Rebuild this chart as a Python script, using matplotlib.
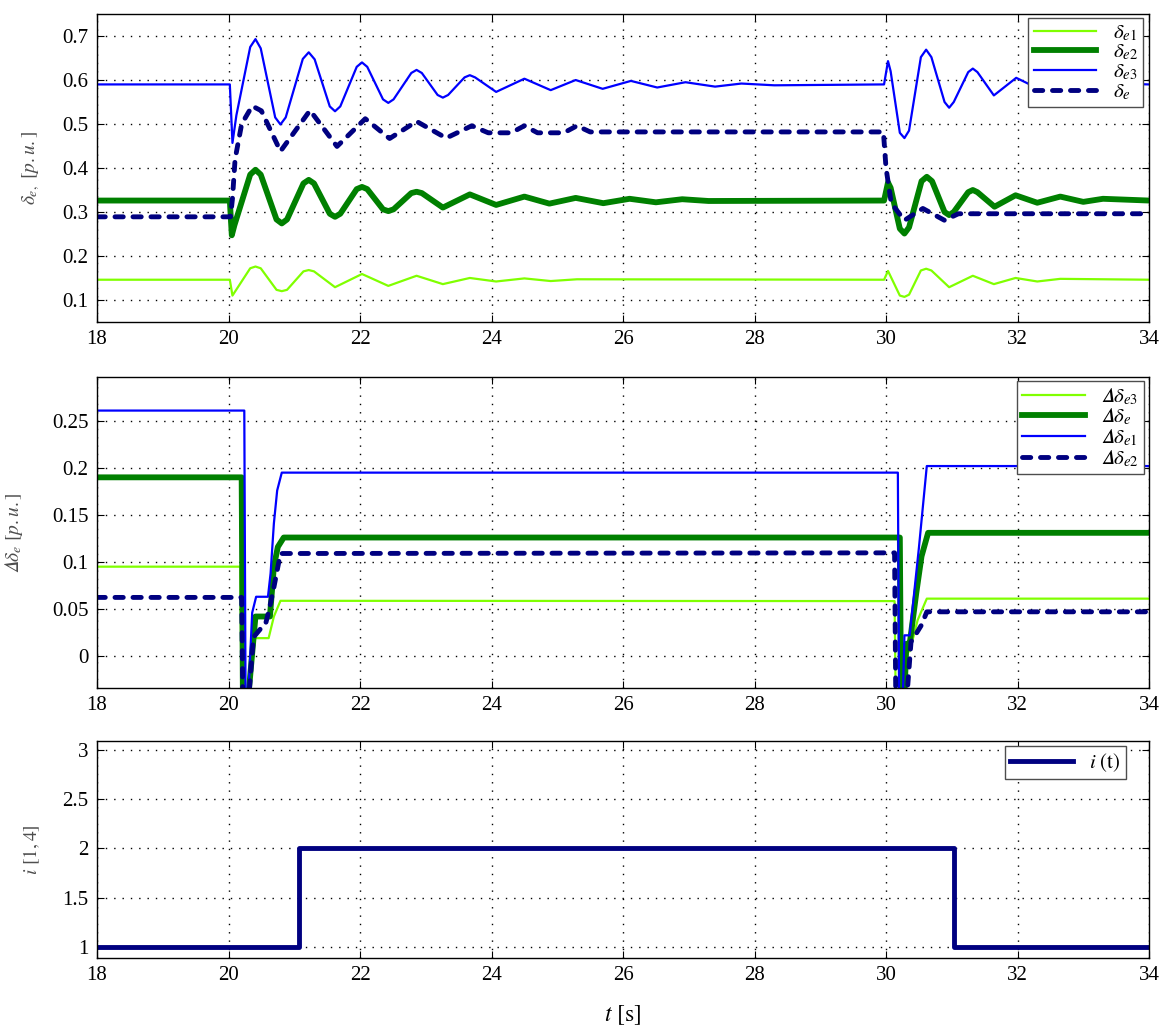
import matplotlib
matplotlib.use('Agg')
import matplotlib.pyplot as plt

plt.rcParams['font.family'] = 'Liberation Serif'
plt.rcParams['mathtext.fontset'] = 'stix'

# --- top panel: delta_e per unit (peaks/troughs)
t_e1 = [18, 20.02, 20.06, 20.33, 20.41, 20.49, 20.73, 20.81, 20.89, 21.14, 21.22, 21.3,
        21.62, 22.03, 22.43, 22.86, 23.26, 23.67, 24.07, 24.5, 24.9, 25.3, 29.97, 30.03,
        30.21, 30.28, 30.35, 30.53, 30.61, 30.69, 30.96, 31.32, 31.64, 31.97, 32.3, 32.65, 34]
de1 = [0.146, 0.146, 0.110, 0.172, 0.176, 0.172, 0.123, 0.120, 0.123, 0.165, 0.168, 0.165,
       0.129, 0.159, 0.132, 0.155, 0.136, 0.150, 0.142, 0.149, 0.143, 0.147, 0.146, 0.166,
       0.110, 0.107, 0.112, 0.167, 0.171, 0.167, 0.129, 0.155, 0.136, 0.150, 0.142, 0.148, 0.146]

t_e2 = [18, 20.02, 20.05, 20.09, 20.33, 20.41, 20.49, 20.73, 20.81, 20.89, 21.14, 21.22,
        21.3, 21.54, 21.62, 21.7, 21.95, 22.03, 22.11, 22.35, 22.43, 22.51, 22.78, 22.86,
        22.94, 23.26, 23.67, 24.07, 24.5, 24.88, 25.28, 25.7, 26.1, 26.5, 26.9, 27.3, 29.97,
        30.03, 30.07, 30.21, 30.28, 30.35, 30.54, 30.62, 30.7, 30.89, 30.96, 31.03, 31.25,
        31.32, 31.39, 31.65, 31.97, 32.3, 32.65, 33.0, 33.3, 34]
de2 = [0.326, 0.326, 0.247, 0.270, 0.385, 0.396, 0.385, 0.283, 0.274, 0.283, 0.365, 0.373,
       0.365, 0.296, 0.289, 0.296, 0.352, 0.357, 0.352, 0.306, 0.302, 0.306, 0.343, 0.346,
       0.343, 0.310, 0.340, 0.316, 0.335, 0.319, 0.332, 0.320, 0.330, 0.322, 0.329, 0.325, 0.326,
       0.367, 0.355, 0.262, 0.251, 0.265, 0.370, 0.380, 0.370, 0.300, 0.293, 0.300, 0.345,
       0.350, 0.345, 0.312, 0.338, 0.321, 0.335, 0.323, 0.330, 0.326]

t_e3 = [18, 20.02, 20.06, 20.12, 20.33, 20.41, 20.49, 20.71, 20.79, 20.87, 21.13, 21.22,
        21.31, 21.54, 21.62, 21.7, 21.95, 22.03, 22.11, 22.35, 22.43, 22.51, 22.78, 22.86,
        22.94, 23.18, 23.26, 23.34, 23.59, 23.67, 23.75, 24.07, 24.5, 24.9, 25.28, 25.69,
        26.12, 26.52, 26.95, 27.4, 27.8, 28.3, 29.97, 30.03, 30.07, 30.21, 30.28, 30.35,
        30.53, 30.61, 30.69, 30.89, 30.96, 31.03, 31.25, 31.32, 31.39, 31.64, 31.98, 32.35,
        32.7, 33.1, 33.5, 34]
de3 = [0.59, 0.59, 0.457, 0.520, 0.675, 0.693, 0.672, 0.515, 0.499, 0.515, 0.648, 0.663,
       0.647, 0.540, 0.529, 0.540, 0.630, 0.640, 0.630, 0.556, 0.548, 0.556, 0.616, 0.623,
       0.616, 0.566, 0.560, 0.566, 0.606, 0.611, 0.606, 0.573, 0.603, 0.577, 0.600, 0.580,
       0.598, 0.583, 0.595, 0.585, 0.592, 0.588, 0.59, 0.643, 0.620, 0.480, 0.468, 0.485,
       0.652, 0.669, 0.652, 0.550, 0.537, 0.550, 0.618, 0.626, 0.618, 0.565, 0.605, 0.578,
       0.598, 0.585, 0.592, 0.59]

t_e = [18, 20.03, 20.06, 20.1, 20.2, 20.36, 20.5, 20.79, 21.24, 21.65, 22.08, 22.45, 22.86,
       23.31, 23.7, 23.95, 24.3, 24.5, 24.7, 25.1, 25.3, 25.5, 26.0, 29.96, 30.0, 30.08,
       30.28, 30.56, 30.89, 31.1, 34]
de = [0.289, 0.289, 0.33, 0.42, 0.50, 0.541, 0.53, 0.438, 0.531, 0.449, 0.512, 0.467, 0.506,
      0.468, 0.496, 0.480, 0.480, 0.496, 0.480, 0.480, 0.496, 0.482, 0.482, 0.482, 0.40, 0.32,
      0.281, 0.308, 0.281, 0.296, 0.296]

# --- middle panel: Delta delta_e
t_d3 = [18, 20.18, 20.2, 20.3, 20.37, 20.61, 20.69, 20.79, 30.13, 30.15, 30.23, 30.28,
        30.36, 30.48, 30.62, 34]
dd3 = [0.095, 0.095, -0.06, -0.06, 0.019, 0.019, 0.042, 0.0587, 0.0584, -0.06, -0.06, 0.005,
       0.005, 0.038, 0.061, 0.061]

t_d = [18, 20.2, 20.22, 20.28, 20.41, 20.63, 20.69, 20.75, 20.84, 30.21, 30.23, 30.27,
       30.31, 30.36, 30.46, 30.54, 30.64, 34]
dd = [0.19, 0.19, -0.06, -0.06, 0.042, 0.042, 0.095, 0.116, 0.126, 0.126, -0.06, -0.06,
      0.013, 0.013, 0.067, 0.106, 0.131, 0.131]

t_d1 = [18, 20.24, 20.26, 20.29, 20.36, 20.42, 20.6, 20.64, 20.69, 20.74, 20.81, 30.18,
        30.2, 30.25, 30.28, 30.36, 30.5, 30.62, 34]
dd1 = [0.261, 0.261, -0.06, -0.06, 0.046, 0.063, 0.063, 0.088, 0.141, 0.176, 0.195, 0.195,
       -0.06, -0.06, 0.022, 0.022, 0.115, 0.202, 0.202]

t_d2 = [18, 20.2, 20.22, 20.29, 20.38, 20.5, 20.56, 20.62, 20.69, 20.79, 30.13, 30.15, 30.3,
        30.38, 30.54, 30.62, 34]
dd2 = [0.0623, 0.0623, -0.06, -0.06, 0.02, 0.03, 0.033, 0.05, 0.073, 0.109, 0.1097, -0.06,
       -0.06, 0.015, 0.033, 0.047, 0.047]

# --- bottom panel: switching index
t_i = [18, 21.07, 31.03, 34]
i_t = [1, 2, 1, 1]

light = '#80FF00'
dgreen = '#008000'
blue = '#0000FF'
navy = '#000080'
DELTA = '\U0001D6E5'  # italic capital delta


def style(ax, yticks, ylabels, ylim):
    ax.set_xlim(18, 34)
    ax.set_xticks(range(18, 35, 2))
    ax.set_ylim(*ylim)
    ax.set_yticks(yticks)
    ax.set_yticklabels(ylabels)
    ax.grid(True, color='k', lw=1.0, linestyle=(0, (1, 5)))
    ax.tick_params(direction='in', length=5, width=0.8, top=True, right=True,
                   labelsize=15, pad=6)
    for s in ax.spines.values():
        s.set_linewidth(1.0)


def legend(ax, anchor):
    leg = ax.legend(loc='upper right', bbox_to_anchor=anchor, fontsize=15,
                    labelspacing=0.0, handlelength=3.0, handletextpad=0.8,
                    borderpad=0.25, borderaxespad=0, fancybox=False,
                    framealpha=1, edgecolor='0.3')
    leg.get_frame().set_linewidth(1.0)


fig = plt.figure(figsize=(11.59, 10.25), dpi=100)
ax1 = fig.add_axes([0.0837, 0.6859, 0.9077, 0.3004])
ax2 = fig.add_axes([0.0837, 0.3288, 0.9077, 0.3034])
ax3 = fig.add_axes([0.0837, 0.0654, 0.9077, 0.2117])

# top
ax1.plot(t_e1, de1, color=light, lw=1.6, label=r'$\delta_{e1}$')
ax1.plot(t_e2, de2, color=dgreen, lw=4.2, label=r'$\delta_{e2}$')
ax1.plot(t_e3, de3, color=blue, lw=1.6, label=r'$\delta_{e3}$')
ax1.plot(t_e, de, color=navy, lw=3.5, dashes=(1.7, 2.0), dash_capstyle='round',
         label=r'$\delta_{e}$')
style(ax1, [0.1, 0.2, 0.3, 0.4, 0.5, 0.6, 0.7],
      ['0.1', '0.2', '0.3', '0.4', '0.5', '0.6', '0.7'], (0.05, 0.75))
ax1.set_ylabel(r'$\delta_{e,}\ [p.u.]$', fontsize=14, color='0.3')
ax1.yaxis.set_label_coords(-0.052, 0.5)
legend(ax1, (1 - 6 / 1052, 1 - 4 / 308))

# middle
ax2.plot(t_d3, dd3, color=light, lw=1.6, label='$' + DELTA + r'\delta_{e3}$')
ax2.plot(t_d, dd, color=dgreen, lw=4.2, label='$' + DELTA + r'\delta_{e}$')
ax2.plot(t_d1, dd1, color=blue, lw=1.6, label='$' + DELTA + r'\delta_{e1}$')
ax2.plot(t_d2, dd2, color=navy, lw=3.5, dashes=(1.7, 2.0), dash_capstyle='round',
         label='$' + DELTA + r'\delta_{e2}$')
style(ax2, [0, 0.05, 0.1, 0.15, 0.2, 0.25],
      ['0', '0.05', '0.1', '0.15', '0.2', '0.25'], (-0.034, 0.2967))
ax2.set_ylabel('$' + DELTA + r'\delta_{e}\ [p.u.]$', fontsize=14, color='0.3')
ax2.yaxis.set_label_coords(-0.068, 0.5)
legend(ax2, (1 - 5 / 1052, 1 - 4 / 311))

# bottom
ax3.plot(t_i, i_t, color=navy, lw=3.5, drawstyle='steps-post', label=r'$i\ \mathrm{(t)}$')
style(ax3, [1, 1.5, 2, 2.5, 3], ['1', '1.5', '2', '2.5', '3'], (0.885, 3.095))
ax3.set_ylabel(r'$i\ \mathrm{[1,4]}$', fontsize=14, color='0.3')
ax3.yaxis.set_label_coords(-0.052, 0.5)
ax3.set_xlabel(r'$t\ \mathrm{[s]}$', fontsize=17)
ax3.xaxis.set_label_coords(0.5, -0.21)
legend(ax3, (1 - 23 / 1052, 1 - 5 / 217))

fig.savefig('out.png', dpi=100)
